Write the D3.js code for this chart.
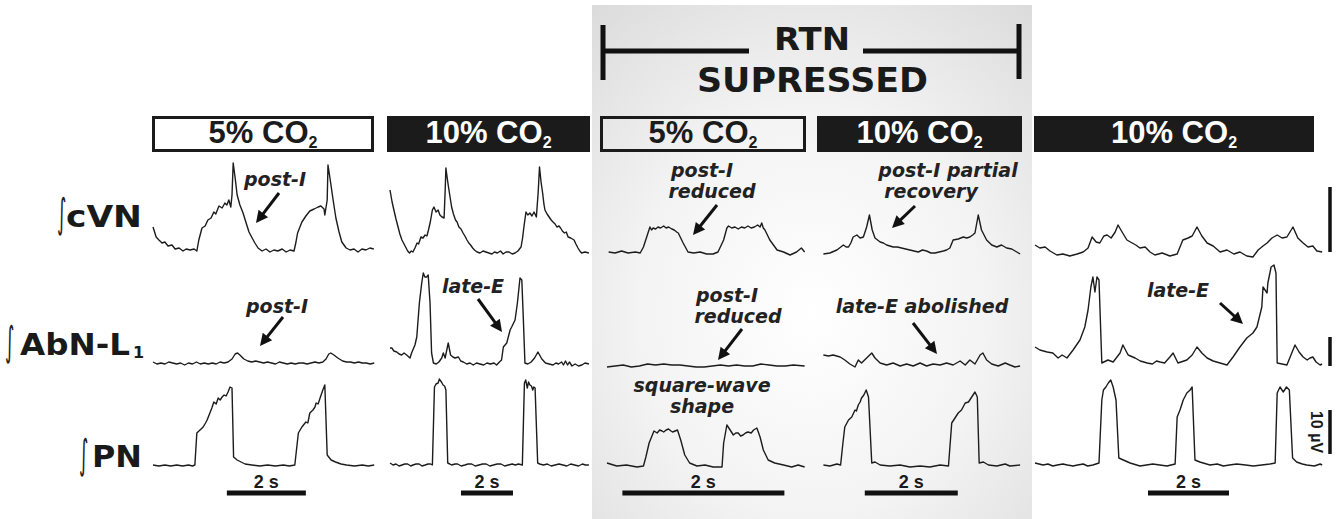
<!DOCTYPE html>
<html>
<head>
<meta charset="utf-8">
<script src="https://cdn.jsdelivr.net/npm/d3@7"></script>
<style>
  html, body { margin: 0; padding: 0; background: #fff; }
  svg { display: block; }
  .trace { fill: none; stroke: #1c1c1c; stroke-width: 1.4; stroke-linejoin: round; }
  .note { font-family: "DejaVu Sans", sans-serif; font-weight: bold; font-style: italic; font-size: 19px; fill: #222; }
  .rowlab { font-family: "DejaVu Sans", sans-serif; font-weight: bold; fill: #1a1a1a; }
  .box { font-family: "Liberation Sans", Arial, sans-serif; font-weight: bold; font-size: 31px; }
  .sbar { font-family: "Liberation Sans", Arial, sans-serif; font-weight: bold; fill: #1a1a1a; }
</style>
</head>
<body>
<div id="chart"></div>
<script>
// ---- data: [time (s), amplitude (a.u., 0 = baseline)] ----
const co2Levels = [5, 10, 5, 10, 10];
const rowNames = ["cVN", "AbN-L", "PN"];
const rowSubs = ["", "1", ""];

// cVN
const cvnP1 = [[0,25],[0.08,15],[0.15,12],[0.23,9],[0.3,10],[0.38,6],[0.48,7],[0.56,3],[0.66,4],[0.76,1],[0.84,3],[0.94,2],[1.04,3],[1.11,1],[1.16,12],[1.24,24],[1.32,26],[1.39,32],[1.47,34],[1.54,40],[1.59,38],[1.67,46],[1.75,44],[1.82,49],[1.87,47],[1.92,52],[1.97,45],[2.0,57],[2.03,89],[2.08,74],[2.13,57],[2.2,47],[2.28,39],[2.35,30],[2.43,20],[2.51,14],[2.58,9],[2.66,4],[2.76,1],[2.86,3],[2.96,0],[3.06,2],[3.16,1],[3.27,3],[3.37,0],[3.47,2],[3.57,1],[3.62,10],[3.66,19],[3.77,30],[3.87,36],[3.97,41],[4.08,43],[4.18,45],[4.25,46],[4.33,43],[4.35,37],[4.41,52],[4.43,87],[4.48,74],[4.56,52],[4.63,34],[4.71,20],[4.78,10],[4.89,4],[4.99,2],[5.09,3],[5.19,0],[5.29,3],[5.39,2],[5.49,4],[5.59,3]];
const cvnP2 = [[0,62],[0.08,50],[0.15,42],[0.23,33],[0.31,25],[0.38,18],[0.46,12],[0.54,8],[0.62,4],[0.68,1],[0.75,-1],[0.82,1],[0.88,0],[0.96,4],[1.04,9],[1.1,8],[1.19,15],[1.27,14],[1.35,17],[1.42,16],[1.48,22],[1.55,30],[1.63,42],[1.69,45],[1.77,40],[1.85,42],[1.92,37],[2.0,35],[2.08,34],[2.12,60],[2.15,84],[2.2,74],[2.25,65],[2.31,55],[2.37,45],[2.44,38],[2.52,32],[2.58,30],[2.65,25],[2.73,23],[2.81,19],[2.88,16],[2.96,12],[3.03,9],[3.1,7],[3.18,4],[3.25,2],[3.35,0],[3.46,-1],[3.58,1],[3.69,0],[3.8,-1],[3.92,-2],[4.02,0],[4.13,-1],[4.25,1],[4.35,-2],[4.46,0],[4.58,0],[4.7,-2],[4.81,-1],[4.92,1],[5.04,5],[5.1,14],[5.15,25],[5.23,40],[5.3,37],[5.38,39],[5.46,36],[5.54,40],[5.63,35],[5.7,60],[5.75,85],[5.81,70],[5.87,59],[5.92,48],[5.96,42],[6.04,38],[6.12,35],[6.2,32],[6.27,30],[6.35,28],[6.42,25],[6.5,26],[6.56,24],[6.63,21],[6.71,19],[6.78,20],[6.85,15],[6.95,14],[7.08,12],[7.15,8],[7.23,4],[7.3,1],[7.37,-1],[7.5,0],[7.65,-1]];
const cvnP3 = [[0.02,0],[0.1,-1],[0.18,1],[0.26,-1],[0.35,0],[0.41,-1],[0.45,5],[0.49,15],[0.53,25],[0.55,22],[0.57,24],[0.6,23],[0.63,25],[0.66,24],[0.7,26],[0.73,24],[0.76,25],[0.8,23],[0.83,22],[0.86,20],[0.88,19],[0.94,9],[1.0,0],[1.07,-1],[1.15,0],[1.23,-2],[1.31,-2],[1.37,0],[1.44,12],[1.48,24],[1.5,26],[1.54,24],[1.58,25],[1.62,23],[1.66,25],[1.7,24],[1.74,26],[1.78,24],[1.82,25],[1.86,27],[1.89,25],[1.91,29],[1.93,24],[1.95,22],[2.01,12],[2.1,2],[2.18,0],[2.26,-3],[2.34,0],[2.4,4],[2.44,0]];
const cvnP4 = [[0.03,-2],[0.17,-1],[0.32,2],[0.46,7],[0.52,5],[0.57,5],[0.62,9],[0.67,15],[0.75,17],[0.82,14],[0.89,15],[0.96,25],[1.02,37],[1.08,22],[1.14,14],[1.25,10],[1.32,9],[1.39,7],[1.46,6],[1.53,5],[1.62,5],[1.71,4],[1.8,3],[1.89,2],[1.98,1],[2.07,0],[2.16,2],[2.25,1],[2.34,-1],[2.43,-1],[2.52,0],[2.61,1],[2.68,2],[2.75,4],[2.82,12],[2.93,13],[3.04,15],[3.11,14],[3.18,15],[3.24,17],[3.29,19],[3.36,37],[3.43,22],[3.54,12],[3.65,7],[3.76,5],[3.86,7],[3.97,4],[4.08,3],[4.19,0],[4.26,-2]];
const cvnP5 = [[0,7],[0.12,4],[0.25,5],[0.37,1],[0.54,-3],[0.69,-2],[0.86,-4],[1.04,-2],[1.19,0],[1.31,4],[1.41,15],[1.51,10],[1.6,9],[1.7,16],[1.78,17],[1.88,14],[1.98,20],[2.05,27],[2.15,20],[2.27,12],[2.4,9],[2.49,7],[2.59,4],[2.72,5],[2.84,0],[2.96,-3],[3.14,-1],[3.33,-4],[3.51,-2],[3.65,12],[3.78,14],[3.88,16],[4.0,25],[4.12,16],[4.25,9],[4.4,6],[4.57,0],[4.74,2],[4.91,-2],[5.06,0],[5.23,-4],[5.38,-5],[5.51,2],[5.63,6],[5.73,9],[5.85,14],[5.98,17],[6.1,14],[6.22,15],[6.37,25],[6.49,14],[6.62,9],[6.74,5],[6.86,6],[6.96,1],[7.09,0]];

// AbN-L1
const abnP1 = [[0,3],[0.1,1],[0.2,2],[0.3,1],[0.4,3],[0.5,2],[0.6,1],[0.7,2],[0.8,0],[0.9,2],[1.0,1],[1.1,3],[1.2,1],[1.3,2],[1.4,1],[1.5,2],[1.6,1],[1.7,3],[1.8,2],[1.9,3],[2.0,6],[2.08,11],[2.14,12],[2.2,10],[2.3,6],[2.4,4],[2.5,3],[2.6,4],[2.7,3],[2.8,2],[2.9,3],[3.0,2],[3.1,1],[3.2,3],[3.3,2],[3.4,1],[3.5,2],[3.6,1],[3.7,2],[3.8,2],[3.9,1],[4.0,2],[4.1,3],[4.2,2],[4.3,3],[4.38,6],[4.45,11],[4.5,12],[4.58,10],[4.68,7],[4.8,4],[4.9,3],[5.0,3],[5.1,2],[5.2,3],[5.3,2],[5.4,2],[5.5,1],[5.6,2]];
const abnP2 = [[0,17],[0.07,17],[0.15,14],[0.26,13],[0.35,11],[0.45,10],[0.54,12],[0.64,10],[0.77,7],[0.83,12],[0.96,20],[1.03,28],[1.13,62],[1.22,82],[1.28,92],[1.34,88],[1.41,88],[1.47,90],[1.54,62],[1.6,12],[1.67,2],[1.78,1],[1.88,3],[1.99,7],[2.05,12],[2.12,7],[2.24,22],[2.33,10],[2.42,8],[2.5,7],[2.63,8],[2.72,4],[2.82,3],[2.95,1],[3.08,2],[3.2,0],[3.33,2],[3.46,1],[3.6,0],[3.73,2],[3.86,1],[4.0,2],[4.1,0],[4.21,3],[4.29,5],[4.36,18],[4.49,22],[4.62,35],[4.68,38],[4.81,45],[4.9,62],[5.0,87],[5.07,85],[5.13,45],[5.19,2],[5.3,1],[5.43,3],[5.56,7],[5.69,13],[5.84,6],[5.98,2],[6.12,1],[6.27,0],[6.38,2],[6.48,1],[6.6,3],[6.67,0],[6.75,4],[6.83,0],[6.9,3],[7.0,-1],[7.12,1],[7.25,-1],[7.38,0],[7.5,2],[7.65,1]];
const abnP3 = [[0,-2],[0.1,-1],[0.2,0],[0.3,-2],[0.4,-1],[0.5,1],[0.6,0],[0.7,1],[0.8,0],[0.9,0],[1.0,-1],[1.1,-2],[1.2,-2],[1.3,-1],[1.4,0],[1.5,-1],[1.6,0],[1.7,-1],[1.8,-1],[1.9,1],[2.0,0],[2.1,-1],[2.2,-1],[2.3,0],[2.44,-1]];
const abnP4 = [[0.03,10],[0.14,9],[0.24,10],[0.39,8],[0.49,5],[0.6,1],[0.71,-2],[0.78,5],[0.85,2],[0.96,7],[1.07,12],[1.14,7],[1.25,2],[1.39,0],[1.53,2],[1.68,-1],[1.82,1],[1.96,-1],[2.11,2],[2.25,-1],[2.39,1],[2.54,0],[2.68,2],[2.82,0],[2.97,4],[3.08,0],[3.18,5],[3.29,1],[3.4,10],[3.46,12],[3.54,5],[3.65,1],[3.79,-1],[3.94,2],[4.04,0],[4.15,-2],[4.26,-1]];
const abnP5 = [[0,18],[0.12,15],[0.3,13],[0.44,12],[0.57,7],[0.67,10],[0.79,7],[0.94,15],[1.11,25],[1.23,38],[1.31,55],[1.38,78],[1.43,88],[1.48,73],[1.53,88],[1.58,85],[1.65,2],[1.8,5],[1.93,3],[2.1,12],[2.17,20],[2.3,10],[2.47,7],[2.6,4],[2.77,2],[2.9,1],[3.0,4],[3.09,3],[3.2,2],[3.33,8],[3.41,12],[3.53,2],[3.75,5],[3.88,10],[4.0,18],[4.12,12],[4.25,7],[4.4,4],[4.57,2],[4.74,0],[4.89,8],[5.06,18],[5.23,27],[5.38,32],[5.48,38],[5.6,58],[5.63,78],[5.73,72],[5.75,82],[5.83,98],[5.9,100],[5.95,92],[5.98,2],[6.1,1],[6.22,0],[6.32,10],[6.42,20],[6.52,13],[6.62,8],[6.72,5],[6.79,7],[6.86,8],[6.94,3],[7.04,0],[7.09,1]];

// PN
const pnP1 = [[0,1],[0.15,0],[0.3,1],[0.45,0],[0.6,1],[0.75,0],[0.9,1],[1.0,0],[1.06,1],[1.11,33],[1.19,36],[1.27,39],[1.33,43],[1.37,46],[1.44,53],[1.49,58],[1.54,64],[1.6,62],[1.65,68],[1.7,66],[1.75,69],[1.8,71],[1.85,70],[1.9,74],[1.95,79],[2.0,78],[2.04,9],[2.13,6],[2.23,4],[2.33,2],[2.5,1],[2.7,0],[2.9,1],[3.1,0],[3.3,1],[3.45,0],[3.59,1],[3.68,33],[3.77,39],[3.87,44],[3.92,43],[3.97,53],[4.05,56],[4.1,59],[4.13,63],[4.18,62],[4.23,68],[4.3,76],[4.35,81],[4.41,11],[4.51,6],[4.62,4],[4.76,2],[4.9,1],[5.1,0],[5.3,1],[5.45,0],[5.6,1]];
const pnP2 = [[0,3],[0.12,1],[0.23,2],[0.35,0],[0.46,1],[0.57,2],[0.68,2],[0.8,0],[0.88,1],[1.0,2],[1.12,2],[1.23,0],[1.35,1],[1.46,2],[1.56,2],[1.63,1],[1.71,79],[1.77,82],[1.85,83],[1.9,87],[1.92,86],[1.98,84],[2.04,81],[2.1,80],[2.15,76],[2.22,3],[2.3,2],[2.37,1],[2.5,2],[2.6,2],[2.74,0],[2.88,1],[3.0,2],[3.14,2],[3.28,0],[3.42,1],[3.56,2],[3.7,2],[3.84,0],[3.98,1],[4.12,2],[4.27,2],[4.41,0],[4.55,1],[4.7,2],[4.82,1],[4.94,2],[5.09,1],[5.17,83],[5.22,86],[5.28,78],[5.33,84],[5.38,81],[5.44,80],[5.49,76],[5.53,79],[5.58,78],[5.68,3],[5.76,2],[5.9,1],[6.05,2],[6.2,0],[6.35,1],[6.5,2],[6.65,1],[6.8,0],[6.95,2],[7.1,1],[7.25,0],[7.4,2],[7.52,1],[7.65,1]];
const pnP3 = [[0,3],[0.12,0],[0.24,1],[0.37,-1],[0.45,0],[0.48,9],[0.52,23],[0.56,31],[0.58,35],[0.6,34],[0.62,33],[0.65,36],[0.68,35],[0.7,34],[0.73,36],[0.76,37],[0.79,35],[0.81,34],[0.84,35],[0.87,36],[0.91,26],[0.96,11],[1.02,3],[1.11,0],[1.21,1],[1.31,-1],[1.42,-1],[1.44,23],[1.48,41],[1.52,36],[1.56,31],[1.59,33],[1.62,33],[1.65,30],[1.68,31],[1.71,33],[1.74,34],[1.78,33],[1.81,36],[1.85,38],[1.89,29],[1.93,16],[1.99,6],[2.07,3],[2.18,1],[2.28,-1],[2.36,1],[2.44,-1]];
const pnP4 = [[0.03,1],[0.17,0],[0.32,2],[0.4,1],[0.45,23],[0.49,39],[0.57,46],[0.64,49],[0.71,56],[0.74,55],[0.78,61],[0.82,64],[0.85,68],[0.9,71],[0.95,76],[1.0,69],[1.07,3],[1.14,4],[1.25,1],[1.46,0],[1.68,1],[1.89,-1],[2.11,0],[2.32,-1],[2.54,1],[2.72,0],[2.79,43],[2.86,48],[2.93,53],[3.0,56],[3.08,63],[3.15,64],[3.22,69],[3.29,74],[3.34,69],[3.38,3],[3.47,4],[3.58,1],[3.76,0],[3.94,2],[4.04,0],[4.26,1]];
const pnP5 = [[0,3],[0.2,1],[0.32,2],[0.44,0],[0.55,1],[0.69,2],[0.8,1],[0.94,0],[1.05,1],[1.19,2],[1.3,0],[1.43,1],[1.58,3],[1.65,66],[1.69,76],[1.75,79],[1.81,83],[1.87,86],[1.93,79],[2.0,66],[2.07,8],[2.18,6],[2.35,3],[2.59,0],[2.75,1],[2.91,2],[3.08,1],[3.26,0],[3.46,2],[3.51,49],[3.58,56],[3.66,66],[3.75,73],[3.83,76],[3.88,79],[3.95,6],[4.07,4],[4.32,1],[4.5,2],[4.65,0],[4.8,1],[4.98,2],[5.2,1],[5.39,0],[5.6,1],[5.8,2],[5.93,3],[5.98,73],[6.05,79],[6.13,74],[6.21,79],[6.28,76],[6.36,8],[6.46,4],[6.6,2],[6.71,1],[6.9,0],[7.04,2],[7.09,1]];

const cvn = [cvnP1, cvnP2, cvnP3, cvnP4, cvnP5];
const abn = [abnP1, abnP2, abnP3, abnP4, abnP5];
const pn = [pnP1, pnP2, pnP3, pnP4, pnP5];

// time calibration bar (2 s) start, per panel, in seconds
const timeBarStart = [1.87, 2.73, 0.19, 0.92, 2.79];
const timeBarSec = 2;
// amplitude calibration bars on the last panel [from, to] in a.u.
const ampBars = [[0, 65], [-1, 28], [12, 56]];

// ---- layout ----
const W = 1344, H = 519;
const panelX0 = [153, 390, 607, 822, 1035];
const pxPerSec = [39.5, 26, 81, 46.5, 40.5];
const rowBase = [252, 365, 466];
const boxSpan = [[152, 374], [387, 590], [600, 806], [817, 1022], [1034, 1314]];
const labelLayout = [
  { ix: 57, x: 66, len: 76, y: 227, iy: 227 },
  { ix: 5, x: 20, len: 110, y: 355, iy: 355 },
  { ix: 79, x: 92, len: 50, y: 467, iy: 468 }
];
const notes = [
  { x: 275, y: 186, lines: ["post-I"], arrow: [279, 193, 256, 223] },
  { x: 277, y: 313, lines: ["post-I"], arrow: [283, 317, 260, 346] },
  { x: 473, y: 293, lines: ["late-E"], arrow: [478, 299, 502, 332] },
  { x: 702, y: 177, lines: ["post-I", "reduced"], dx: [0, 10], arrow: [717, 205, 693, 235] },
  { x: 948, y: 177, lines: ["post-I partial", "recovery"], dx: [0, -17], arrow: [915, 206, 892, 228] },
  { x: 727, y: 302, lines: ["post-I", "reduced"], dx: [0, 11], arrow: [742, 329, 718, 360] },
  { x: 922, y: 313, lines: ["late-E abolished"], arrow: [913, 323, 937, 354] },
  { x: 702, y: 392, lines: ["square-wave", "shape"], arrow: null },
  { x: 1178, y: 297, lines: ["late-E"], arrow: [1220, 303, 1243, 324] }
];

const svg = d3.select("#chart").append("svg").attr("width", W).attr("height", H);
const defs = svg.append("defs");
const grad = defs.append("radialGradient").attr("id", "shade")
  .attr("cx", "50%").attr("cy", "60%").attr("r", "80%");
[[0, "#ffffff"], [0.5, "#f3f3f3"], [1, "#dadada"]]
  .forEach(([o, c]) => grad.append("stop").attr("offset", o).attr("stop-color", c));

svg.append("rect").attr("x", 592).attr("y", 5).attr("width", 440).attr("height", H - 5)
  .attr("fill", "url(#shade)");

// stretch a text horizontally to a given width
function fitText(sel, x, y, len) {
  const w = sel.node().getComputedTextLength();
  sel.attr("transform", `translate(${x},${y}) scale(${len / w},1)`);
  return sel;
}

// RTN suppressed bracket
const bracket = svg.append("g").attr("stroke", "#111").attr("stroke-width", 5).attr("fill", "none");
bracket.append("path").attr("d", "M603,25V80M603,51H749");
bracket.append("path").attr("d", "M863,51H1019M1019,24V79");
fitText(svg.append("text").attr("class", "rowlab").style("font-size", "32px").text("RTN"), 774, 50, 76);
fitText(svg.append("text").attr("class", "rowlab").style("font-size", "33px").text("SUPRESSED"), 697, 92, 231);

// condition boxes
co2Levels.forEach((lvl, i) => {
  const [x0, x1] = boxSpan[i];
  const dark = lvl >= 10;
  svg.append("rect").attr("x", x0 + 1.5).attr("y", 117.5).attr("width", x1 - x0 - 3).attr("height", 33)
    .attr("fill", dark ? "#1b1b1b" : "none").attr("stroke", "#1b1b1b").attr("stroke-width", 3);
  const t = svg.append("text").attr("class", "box").attr("x", (x0 + x1) / 2).attr("y", 143)
    .attr("text-anchor", "middle").attr("fill", dark ? "#fff" : "#1b1b1b");
  t.append("tspan").text(`${lvl}% CO`);
  t.append("tspan").style("font-size", "16px").attr("dy", 5).text("2");
});

// row labels
rowNames.forEach((name, r) => {
  const L = labelLayout[r];
  svg.append("text").attr("transform", `translate(${L.ix},${L.iy}) scale(0.45,1)`)
    .attr("font-family", "DejaVu Sans").style("font-size", "40px").attr("fill", "#222").text("\u222B");
  fitText(svg.append("text").attr("class", "rowlab").style("font-size", "30px").text(name), L.x, L.y, L.len);
  if (rowSubs[r]) {
    svg.append("text").attr("class", "rowlab").attr("x", L.x + L.len + 3).attr("y", L.y + 3)
      .style("font-size", "16px").text(rowSubs[r]);
  }
});

// traces
const xScales = panelX0.map((x0, p) => d3.scaleLinear().domain([0, 1]).range([x0, x0 + pxPerSec[p]]));
const yScales = rowBase.map(b => d3.scaleLinear().domain([0, 100]).range([b, b - 100]));
[cvn, abn, pn].forEach((traces, r) => {
  traces.forEach((pts, p) => {
    const line = d3.line().x(d => xScales[p](d[0])).y(d => yScales[r](d[1]));
    svg.append("path").attr("class", "trace").attr("d", line(pts));
  });
});

// time bars
timeBarStart.forEach((t0, p) => {
  const x = xScales[p];
  svg.append("line").attr("x1", x(t0)).attr("x2", x(t0 + timeBarSec)).attr("y1", 493).attr("y2", 493)
    .attr("stroke", "#111").attr("stroke-width", 5);
  svg.append("text").attr("class", "sbar").style("font-size", "18px")
    .attr("x", x(t0 + timeBarSec / 2)).attr("y", 488)
    .attr("text-anchor", "middle").text(`${timeBarSec} s`);
});

// amplitude bars
ampBars.forEach(([a, b], r) => {
  svg.append("line").attr("x1", 1330).attr("x2", 1330)
    .attr("y1", yScales[r](a)).attr("y2", yScales[r](b))
    .attr("stroke", "#111").attr("stroke-width", 3.5);
});
const pnBar = ampBars[2];
svg.append("text").attr("class", "sbar").style("font-size", "16px")
  .attr("transform", `translate(1311,${(yScales[2](pnBar[0]) + yScales[2](pnBar[1])) / 2}) rotate(90)`)
  .attr("text-anchor", "middle").text("10 \u00B5V");

// annotations
function arrow(x1, y1, x2, y2) {
  const dx = x2 - x1, dy = y2 - y1, len = Math.hypot(dx, dy);
  const ux = dx / len, uy = dy / len, hl = 12, hw = 6;
  const bx = x2 - ux * hl, by = y2 - uy * hl;
  svg.append("line").attr("x1", x1).attr("y1", y1).attr("x2", bx + ux * 2).attr("y2", by + uy * 2)
    .attr("stroke", "#111").attr("stroke-width", 3);
  svg.append("path")
    .attr("d", `M${x2},${y2}L${bx - uy * hw},${by + ux * hw}L${bx + uy * hw},${by - ux * hw}Z`)
    .attr("fill", "#111");
}
notes.forEach(n => {
  n.lines.forEach((s, i) => {
    svg.append("text").attr("class", "note").attr("text-anchor", "middle")
      .attr("x", n.x + (n.dx ? n.dx[i] : 0)).attr("y", n.y + i * 21).text(s);
  });
  if (n.arrow) arrow(...n.arrow);
});
</script>
</body>
</html>
